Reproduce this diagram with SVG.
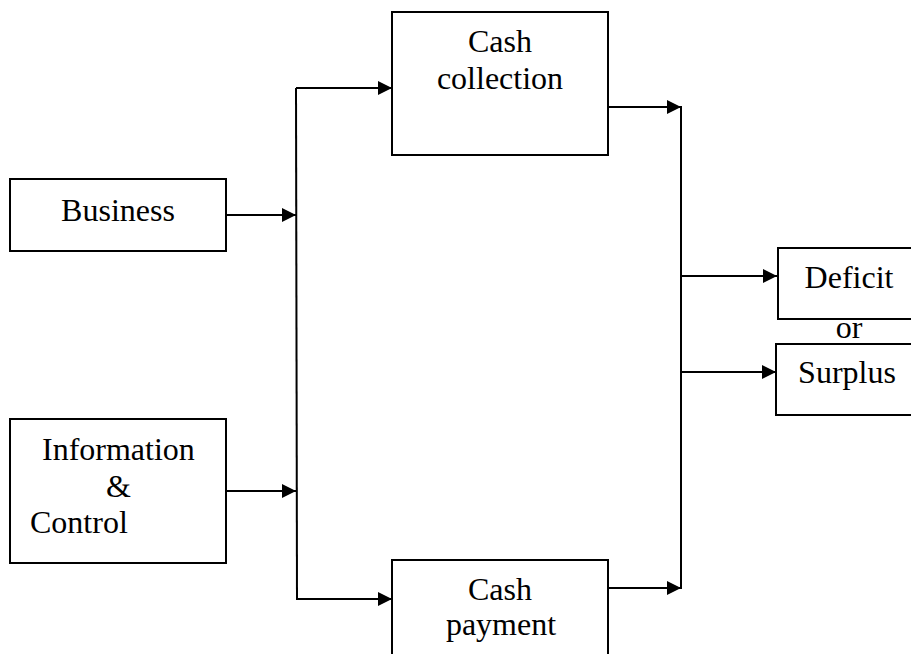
<svg xmlns="http://www.w3.org/2000/svg" width="911" height="654" viewBox="0 0 911 654">
<defs>
<style>
.box{fill:#fff;stroke:#000;stroke-width:2}
.t{font-family:"Liberation Serif","Times New Roman",serif;font-size:32px;fill:#000}
.c{text-anchor:middle}
.ln{fill:none;stroke:#000;stroke-width:2}
</style>
<marker id="ah" viewBox="0 0 14 14" refX="14" refY="7" markerWidth="14" markerHeight="14" markerUnits="userSpaceOnUse" orient="auto">
<path d="M0,0 L14,7 L0,14 Z" fill="#000"/>
</marker>
</defs>
<rect width="911" height="654" fill="#fff"/>
<g id="connectors">
<line class="ln" x1="226" y1="215" x2="296" y2="215" marker-end="url(#ah)"/>
<line class="ln" x1="226" y1="491" x2="296" y2="491" marker-end="url(#ah)"/>
<line class="ln" x1="296" y1="88" x2="297" y2="600"/>
<line class="ln" x1="296" y1="88" x2="392" y2="88" marker-end="url(#ah)"/>
<line class="ln" x1="297" y1="599" x2="392" y2="599" marker-end="url(#ah)"/>
<line class="ln" x1="608" y1="107" x2="681" y2="107" marker-end="url(#ah)"/>
<line class="ln" x1="608" y1="588" x2="681" y2="588" marker-end="url(#ah)"/>
<line class="ln" x1="681" y1="106" x2="681" y2="589"/>
<line class="ln" x1="681" y1="276" x2="777" y2="276" marker-end="url(#ah)"/>
<line class="ln" x1="681" y1="372" x2="776" y2="372" marker-end="url(#ah)"/>
</g>
<g id="business">
<rect class="box" x="10" y="179" width="216" height="72"/>
<text class="t c" x="118" y="221">Business</text>
</g>
<g id="info-control">
<rect class="box" x="10" y="419" width="216" height="144"/>
<text class="t" x="42" y="460">Information</text>
<text class="t" x="106" y="497">&amp;</text>
<text class="t" x="30" y="533">Control</text>
</g>
<g id="cash-collection">
<rect class="box" x="392" y="12" width="216" height="143"/>
<text class="t c" x="500" y="52">Cash</text>
<text class="t c" x="500" y="89">collection</text>
</g>
<g id="cash-payment">
<rect class="box" x="392" y="560" width="216" height="110"/>
<text class="t c" x="500" y="600">Cash</text>
<text class="t c" x="501" y="635">payment</text>
</g>
<g id="deficit">
<rect class="box" x="778" y="248" width="140" height="71"/>
<text class="t c" x="849" y="288">Deficit</text>
</g>
<text class="t c" x="849" y="338">or</text>
<g id="surplus">
<rect class="box" x="776" y="344" width="140" height="71"/>
<text class="t c" x="847" y="383">Surplus</text>
</g>
</svg>
